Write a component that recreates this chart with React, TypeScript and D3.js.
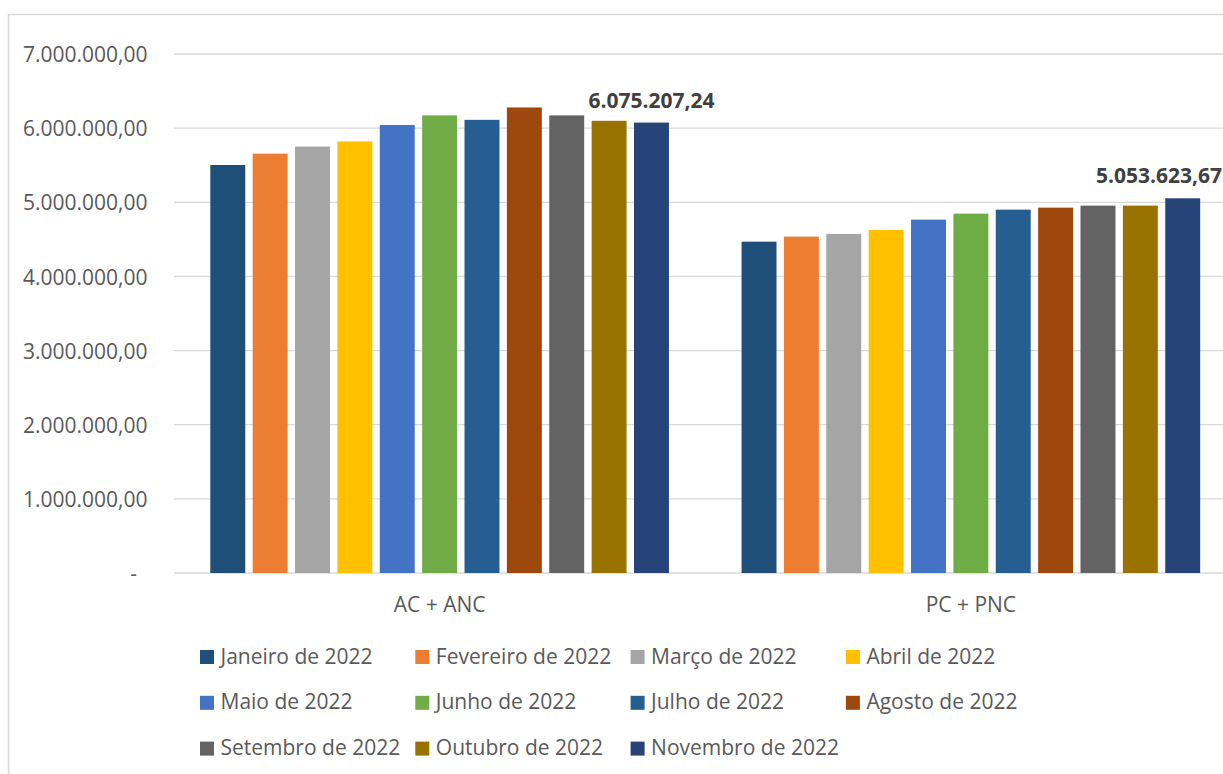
import React, { useEffect, useRef } from "react";
import * as d3 from "d3";

const categories = ["AC + ANC", "PC + PNC"];
const seriesNames = [
  "Janeiro de 2022",
  "Fevereiro de 2022",
  "Março de 2022",
  "Abril de 2022",
  "Maio de 2022",
  "Junho de 2022",
  "Julho de 2022",
  "Agosto de 2022",
  "Setembro de 2022",
  "Outubro de 2022",
  "Novembro de 2022",
];
const colors = [
  "#1F4E79",
  "#ED7D31",
  "#A5A5A5",
  "#FFC000",
  "#4472C4",
  "#70AD47",
  "#255E91",
  "#9E480E",
  "#636363",
  "#997300",
  "#264478",
];
const acAnc = [
  5503000, 5656000, 5752000, 5821000, 6042000, 6172000, 6112000, 6279000, 6172000, 6099000,
  6075207.24,
];
const pcPnc = [
  4469000, 4537000, 4573000, 4627000, 4766000, 4847000, 4901000, 4928000, 4955000, 4955000,
  5053623.67,
];
const yTicks = [0, 1000000, 2000000, 3000000, 4000000, 5000000, 6000000, 7000000];

const W = 1223;
const H = 774;

export default function App() {
  const ref = useRef<SVGSVGElement | null>(null);

  useEffect(() => {
    const svg = d3.select(ref.current);
    svg.selectAll("*").remove();

    const locale = d3.formatLocale({
      decimal: ",",
      thousands: ".",
      grouping: [3],
      currency: ["R$", ""],
    });
    const fmt = locale.format(",.2f");
    const font = "'Open Sans', 'Noto Sans', sans-serif";

    const plotLeft = 174;
    const plotRight = 1236.5;
    const plotTop = 54;
    const plotBottom = 573;
    const chartRight = 1222;

    // chart border
    svg
      .append("rect")
      .attr("x", 8.5)
      .attr("y", 14.5)
      .attr("width", 1400)
      .attr("height", 900)
      .attr("fill", "#fff")
      .attr("stroke", "#d9d9d9")
      .attr("stroke-width", 1.5);

    const y = d3.scaleLinear().domain([0, 7000000]).range([plotBottom, plotTop]);
    const x0 = d3.scaleBand<string>().domain(categories).range([plotLeft, plotRight]).padding(0);
    const x1 = d3
      .scaleBand<string>()
      .domain(seriesNames)
      .range([0, x0.bandwidth()])
      .paddingInner(0.175)
      .paddingOuter(0.857);

    // gridlines
    svg
      .append("g")
      .selectAll("line")
      .data(yTicks)
      .join("line")
      .attr("x1", plotLeft)
      .attr("x2", plotRight)
      .attr("y1", (d) => y(d))
      .attr("y2", (d) => y(d))
      .attr("stroke", "#d9d9d9")
      .attr("stroke-width", 1.3);

    // y tick labels
    svg
      .append("g")
      .selectAll("text")
      .data(yTicks)
      .join("text")
      .attr("x", (d) => (d === 0 ? 137 : 147.5))
      .attr("y", (d) => y(d) + 2.5)
      .attr("text-anchor", "end")
      .attr("dominant-baseline", "middle")
      .attr("font-family", font)
      .attr("font-size", 21)
      .attr("fill", "#595959")
      .text((d) => (d === 0 ? "-" : fmt(d)));

    const dataByCat = [acAnc, pcPnc];

    const groups = svg
      .append("g")
      .selectAll("g")
      .data(categories)
      .join("g")
      .attr("transform", (c) => `translate(${x0(c)},0)`);

    groups
      .selectAll("rect")
      .data((c) => seriesNames.map((s, j) => ({ s, v: dataByCat[categories.indexOf(c)][j], color: colors[j] })))
      .join("rect")
      .attr("x", (d) => x1(d.s)!)
      .attr("width", x1.bandwidth())
      .attr("y", (d) => y(d.v))
      .attr("height", (d) => plotBottom - y(d.v))
      .attr("fill", (d) => d.color);

    // category labels
    svg
      .append("g")
      .selectAll("text")
      .data(categories)
      .join("text")
      .attr("x", (c) => x0(c)! + x0.bandwidth() / 2)
      .attr("y", 612)
      .attr("text-anchor", "middle")
      .attr("font-family", font)
      .attr("font-size", 21)
      .attr("fill", "#595959")
      .text((c) => c);

    // data labels for last series
    const last = seriesNames.length - 1;
    categories.forEach((c, ci) => {
      const v = dataByCat[ci][last];
      const cx = x0(c)! + x1(seriesNames[last])! + x1.bandwidth() / 2;
      const t = svg
        .append("text")
        .attr("x", cx)
        .attr("y", y(v) - 15)
        .attr("text-anchor", "middle")
        .attr("font-family", font)
        .attr("font-weight", "bold")
        .attr("font-size", 21)
        .attr("fill", "#404040")
        .text(fmt(v));
      const node = t.node() as SVGTextElement;
      const w = node.getComputedTextLength();
      if (cx + w / 2 > chartRight) {
        t.attr("x", chartRight).attr("text-anchor", "end");
      }
    });

    // legend
    const legX = 200;
    const legY = 650;
    const colStep = 215.3;
    const rowStep = 45.8;
    const legend = svg
      .append("g")
      .selectAll("g")
      .data(seriesNames)
      .join("g")
      .attr("transform", (_, i) => `translate(${legX + (i % 4) * colStep},${legY + Math.floor(i / 4) * rowStep})`);
    legend
      .append("rect")
      .attr("width", 14)
      .attr("height", 14)
      .attr("fill", (_, i) => colors[i]);
    legend
      .append("text")
      .attr("x", 20.5)
      .attr("y", 8)
      .attr("dominant-baseline", "middle")
      .attr("font-family", font)
      .attr("font-size", 21)
      .attr("fill", "#595959")
      .text((d) => d);
  }, []);

  return (
    <svg
      ref={ref}
      width={W}
      height={H}
      style={{ position: "absolute", left: 0, top: 0, display: "block", background: "#fff" }}
    />
  );
}
